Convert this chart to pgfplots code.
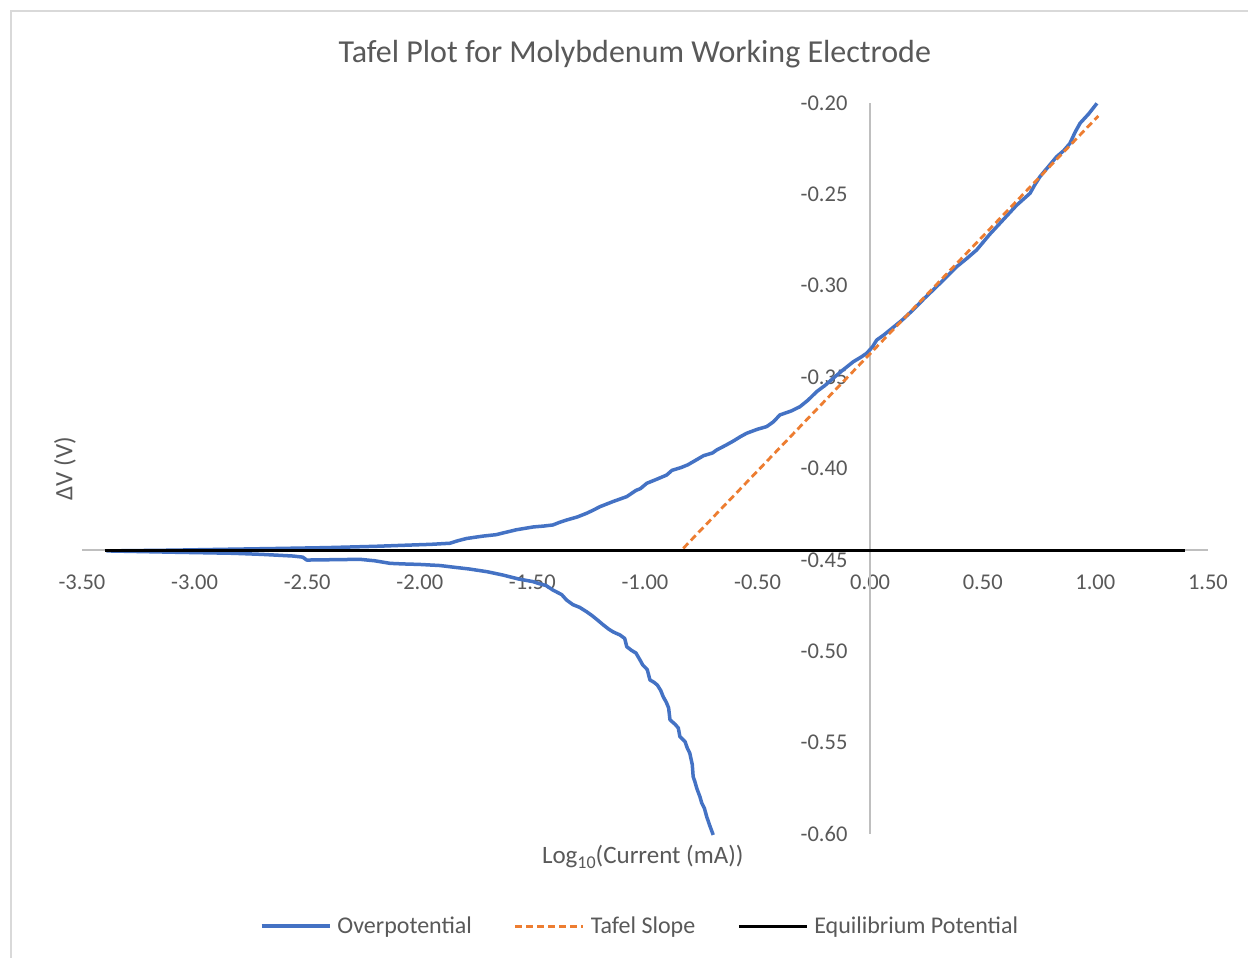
\documentclass[border=0pt]{standalone}
\usepackage{pgfplots}
\pgfplotsset{compat=1.18}
\usepackage{fontspec}
\setmainfont{Carlito}
\definecolor{txt}{HTML}{595959}
\definecolor{axgray}{HTML}{BFBFBF}
\definecolor{border}{HTML}{D9D9D9}
\definecolor{blueline}{HTML}{4472C4}
\definecolor{orangeline}{HTML}{ED7D31}
\begin{document}
\begin{tikzpicture}
\useasboundingbox (0pt,0pt) rectangle (1248pt,958pt);
\fill[white] (0pt,0pt) rectangle (1248pt,958pt);
\draw[border,line width=2pt] (11pt,0pt) -- (11pt,947pt) -- (1248pt,947pt);
\begin{axis}[
  at={(82pt,124pt)}, anchor=south west,
  width=1126pt, height=731pt, scale only axis,
  xmin=-3.5, xmax=1.5, ymin=-0.60, ymax=-0.20,
  axis line style={draw=none},
  major tick length=0pt,
  xtick={-3.5,-3,-2.5,-2,-1.5,-1,-0.5,0,0.5,1,1.5},
  ytick={-0.6,-0.55,-0.5,-0.45,-0.4,-0.35,-0.3,-0.25,-0.2},
  /pgf/number format/assume math mode=true,
  /pgf/number format/.cd, fixed, fixed zerofill, precision=2, /pgfplots/.cd,
  tick label style={font=\fontsize{22.5}{27}\selectfont, text=txt},
  xticklabel style={yshift=263pt},
  yticklabel style={anchor=east, xshift=769pt},
  clip=false,
  title={Tafel Plot for Molybdenum Working Electrode},
  title style={at={(axis description cs:0.491,1.059)}, anchor=center, font=\fontsize{32}{37}\selectfont, text=txt},
  xlabel={Log\raisebox{-0.45ex}{\fontsize{18}{20}\selectfont 10}(Current (mA))},
  xlabel style={at={(axis description cs:0.498,-0.0315)}, anchor=center, font=\fontsize{25}{29}\selectfont, text=txt},
  ylabel={ΔV (V)},
  ylabel style={at={(axis description cs:-0.0151,0.5)}, anchor=center, font=\fontsize{25}{29}\selectfont, text=txt},
  legend columns=3,
  legend style={draw=none, fill=none, at={(axis description cs:0.4956,-0.126)}, anchor=center,
    font=\fontsize{24}{28}\selectfont, text=txt,
    /tikz/every odd column/.append style={column sep=4pt},
    /tikz/every even column/.append style={column sep=40pt}},
  legend image code/.code={\draw[#1] (0pt,0pt) -- (68pt,0pt);},
]
\draw[axgray, line width=1.5pt] (axis cs:-3.5,-0.4446) -- (axis cs:1.5,-0.4446);
\draw[axgray, line width=1.5pt] (axis cs:0,-0.60) -- (axis cs:0,-0.20);
\addplot[blueline, line width=3.5pt, line join=round] coordinates {
(-0.697,-0.6005) (-0.712,-0.5955) (-0.726,-0.5905) (-0.736,-0.5860) (-0.748,-0.5830) (-0.756,-0.5796)
(-0.770,-0.5750) (-0.778,-0.5715) (-0.786,-0.5686) (-0.790,-0.5620) (-0.801,-0.5558)
(-0.812,-0.5530) (-0.822,-0.5495) (-0.845,-0.5467) (-0.852,-0.5420) (-0.866,-0.5400)
(-0.880,-0.5385) (-0.889,-0.5375) (-0.895,-0.5310) (-0.905,-0.5280) (-0.919,-0.5249)
(-0.930,-0.5215) (-0.945,-0.5185) (-0.960,-0.5170) (-0.978,-0.5157) (-0.990,-0.5100)
(-1.010,-0.5075) (-1.022,-0.5048) (-1.040,-0.5010) (-1.060,-0.4995) (-1.081,-0.4975)
(-1.090,-0.4930) (-1.111,-0.4911) (-1.140,-0.4895) (-1.160,-0.4880) (-1.185,-0.4856)
(-1.210,-0.4830) (-1.235,-0.4805) (-1.259,-0.4784) (-1.290,-0.4760) (-1.320,-0.4745)
(-1.348,-0.4720) (-1.370,-0.4690) (-1.409,-0.4665) (-1.440,-0.4640) (-1.470,-0.4630)
(-1.497,-0.4619) (-1.560,-0.4605) (-1.631,-0.4583) (-1.700,-0.4565) (-1.780,-0.4550)
(-1.850,-0.4540) (-1.910,-0.4531) (-2.000,-0.4525) (-2.080,-0.4522) (-2.132,-0.4519)
(-2.200,-0.4505) (-2.266,-0.4497) (-2.380,-0.4499) (-2.502,-0.4501) (-2.520,-0.4485)
(-2.563,-0.4479) (-2.700,-0.4470) (-2.829,-0.4464) (-3.100,-0.4458) (-3.390,-0.4451)
(-3.100,-0.4447) (-2.857,-0.4442) (-2.600,-0.4437) (-2.413,-0.4433) (-2.200,-0.4426)
(-2.044,-0.4419) (-1.950,-0.4415) (-1.866,-0.4409) (-1.830,-0.4395) (-1.792,-0.4383)
(-1.720,-0.4370) (-1.660,-0.4362) (-1.631,-0.4353) (-1.570,-0.4335) (-1.497,-0.4320)
(-1.450,-0.4315) (-1.409,-0.4309) (-1.380,-0.4295) (-1.348,-0.4282) (-1.300,-0.4265)
(-1.259,-0.4245) (-1.230,-0.4228) (-1.200,-0.4209) (-1.140,-0.4180) (-1.081,-0.4154)
(-1.040,-0.4120) (-1.020,-0.4110) (-0.992,-0.4081) (-0.950,-0.4060) (-0.904,-0.4036)
(-0.880,-0.4010) (-0.840,-0.3995) (-0.810,-0.3980) (-0.786,-0.3963) (-0.740,-0.3930)
(-0.700,-0.3915) (-0.682,-0.3899) (-0.640,-0.3872) (-0.608,-0.3850) (-0.575,-0.3825)
(-0.548,-0.3807) (-0.500,-0.3785) (-0.460,-0.3771) (-0.430,-0.3745) (-0.401,-0.3707)
(-0.350,-0.3685) (-0.312,-0.3662) (-0.275,-0.3625) (-0.238,-0.3580) (-0.200,-0.3545)
(-0.164,-0.3506) (-0.120,-0.3460) (-0.075,-0.3416) (-0.040,-0.3390) (-0.016,-0.3370)
(0.010,-0.3335) (0.029,-0.3297) (0.060,-0.3270) (0.088,-0.3242) (0.140,-0.3190)
(0.190,-0.3133) (0.240,-0.3070) (0.295,-0.3005) (0.340,-0.2950) (0.384,-0.2896)
(0.430,-0.2850) (0.473,-0.2804) (0.530,-0.2720) (0.590,-0.2640) (0.650,-0.2560)
(0.710,-0.2494) (0.730,-0.2450) (0.754,-0.2403) (0.790,-0.2350) (0.828,-0.2294)
(0.860,-0.2260) (0.887,-0.2221) (0.910,-0.2160) (0.932,-0.2111) (0.970,-0.2060)
(1.007,-0.2002)
};
\addlegendentry{Overpotential}
\addplot[orangeline, line width=2.8pt, dash pattern=on 7pt off 4pt] coordinates {
(-0.830,-0.4437) (1.013,-0.2071)
};
\addlegendentry{Tafel Slope}
\addplot[black, line width=3pt] coordinates {
(-3.40,-0.4446) (1.40,-0.4446)
};
\addlegendentry{Equilibrium Potential}
\end{axis}
\end{tikzpicture}
\end{document}
